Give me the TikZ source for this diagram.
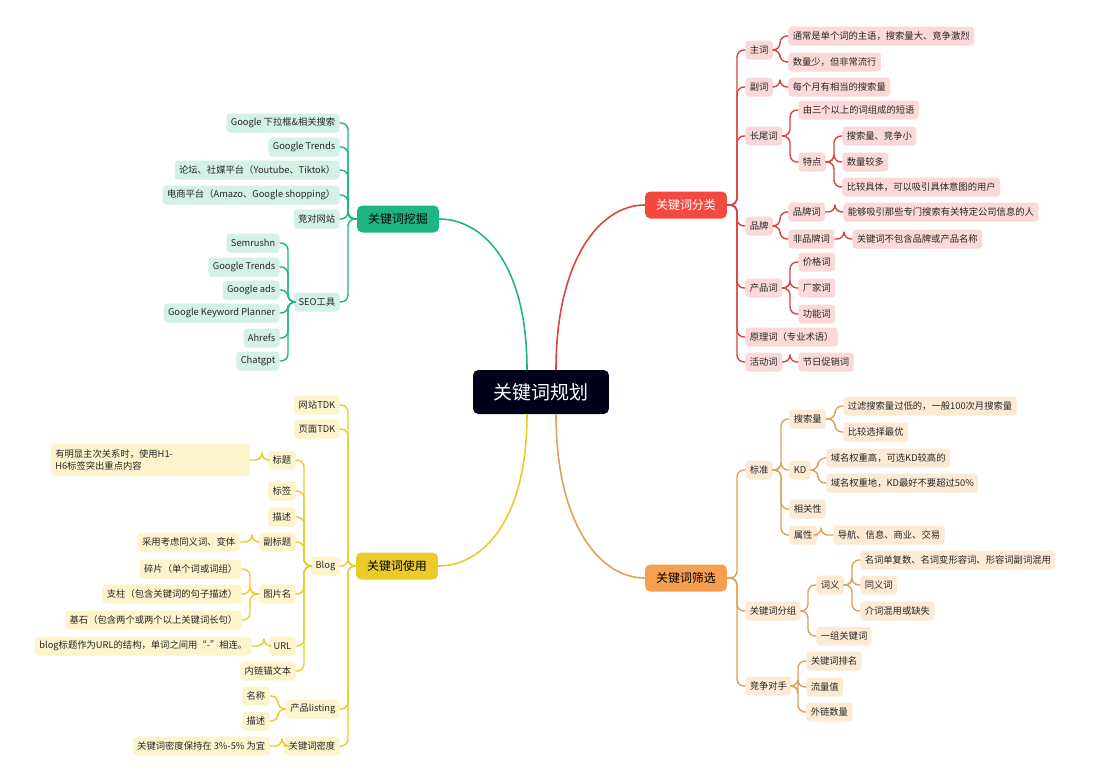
\documentclass[tikz,border=0pt]{standalone}
\usepackage{fontspec}
\setmainfont{Noto Sans CJK SC}
\usetikzlibrary{calc}
\definecolor{cred}{HTML}{D64541}
\definecolor{fred}{HTML}{FBD9D8}
\definecolor{bred}{HTML}{F24A40}
\definecolor{cgrn}{HTML}{1FB583}
\definecolor{fgrn}{HTML}{D3F1E4}
\definecolor{cyel}{HTML}{EACB2A}
\definecolor{fyel}{HTML}{FDF4CC}
\definecolor{cora}{HTML}{DFA05C}
\definecolor{fora}{HTML}{FCEAD5}
\definecolor{bora}{HTML}{F5A04E}
\tikzset{
  leaf/.style={rounded corners=2pt,inner xsep=2.5pt,inner ysep=0pt,minimum height=0.38cm,font=\fontsize{5.3}{6.5}\selectfont,text=black!85},
  lk/.style={line width=0.8pt,rounded corners=4pt},
  branch/.style={rounded corners=3pt,minimum width=1.64cm,minimum height=0.54cm,font=\fontsize{6.8}{8}\selectfont},
}
\newcommand\linkR[3][8]{\draw[lk] (#3.west) -- ++(-#1,0) |- (#2.east);}
\newcommand\linkL[3][8]{\draw[lk] (#3.east) -- ++(#1,0) |- (#2.west);}
\begin{document}
\begin{tikzpicture}[x=0.02cm,y=-0.02cm,line cap=round,line join=round]
\useasboundingbox[fill=white] (0,0) rectangle (1099,778);
% centre
\node[fill=black!90!blue,rounded corners=3pt,minimum width=2.72cm,minimum height=0.88cm,text=white,font=\fontsize{10.8}{12}\selectfont] (root) at (541,392) {关键词规划};
\node[branch,fill=bred,text=white] (fenlei) at (686,205) {关键词分类};
\node[branch,fill=cgrn,text=black] (wajue) at (398,219) {关键词挖掘};
\node[branch,fill=cyel,text=black] (shiyong) at (397,566) {关键词使用};
\node[branch,fill=bora,text=black] (shaixuan) at (686,578) {关键词筛选};
\draw[cred,line width=0.9pt] ($(root.north)+(15,0)$) .. controls +(0,-110) and (600,205) .. (fenlei.west);
\draw[cgrn,line width=0.9pt] ($(root.north)+(-14,0)$) .. controls +(0,-110) and (480,219) .. (wajue.east);
\draw[cyel,line width=0.9pt] ($(root.south)+(-14,0)$) .. controls +(0,110) and (480,566) .. (shiyong.east);
\draw[cora,line width=0.9pt] ($(root.south)+(15,0)$) .. controls +(0,110) and (600,578) .. (shaixuan.west);

% red tree
\begin{scope}[every node/.style={leaf,fill=fred,anchor=west},lk/.append style={cred}]
\node (zhu) at (745,50) {主词};
\node (fu) at (745,87) {副词};
\node (chang) at (745,136) {长尾词};
\node (pinpai) at (745,226) {品牌};
\node (chanp) at (745,288) {产品词};
\node (yuanli) at (745,337) {原理词（专业术语）};
\node (huod) at (745,362) {活动词};
\node (zhu1) at (788,36) {通常是单个词的主语，搜索量大、竞争激烈};
\node (zhu2) at (788,62) {数量少，但非常流行};
\node (fu1) at (788,87) {每个月有相当的搜索量};
\node (chang1) at (798,110) {由三个以上的词组成的短语};
\node (tedian) at (798,162) {特点};
\node (td1) at (842,136) {搜索量、竞争小};
\node (td2) at (842,162) {数量较多};
\node (td3) at (842,187) {比较具体，可以吸引具体意图的用户};
\node (ppc) at (788,212) {品牌词};
\node (fppc) at (788,239) {非品牌词};
\node (ppc1) at (843,212) {能够吸引那些专门搜索有关特定公司信息的人};
\node (fppc1) at (852,239) {关键词不包含品牌或产品名称};
\node (cp1) at (798,262) {价格词};
\node (cp2) at (798,288) {厂家词};
\node (cp3) at (798,314) {功能词};
\node (hd1) at (798,362) {节日促销词};
\foreach \c in {zhu,fu,chang,pinpai,chanp,yuanli,huod} {\linkR{fenlei}{\c}}
\foreach \c in {zhu1,zhu2} {\linkR{zhu}{\c}}
\linkR{fu}{fu1}
\foreach \c in {chang1,tedian} {\linkR{chang}{\c}}
\foreach \c in {td1,td2,td3} {\linkR{tedian}{\c}}
\foreach \c in {ppc,fppc} {\linkR{pinpai}{\c}}
\linkR{ppc}{ppc1}
\linkR{fppc}{fppc1}
\foreach \c in {cp1,cp2,cp3} {\linkR{chanp}{\c}}
\linkR{huod}{hd1}
\end{scope}

% orange tree
\begin{scope}[every node/.style={leaf,fill=fora,anchor=west},lk/.append style={cora}]
\node (biaoz) at (745,470) {标准};
\node (fenzu) at (745,611) {关键词分组};
\node (jingz) at (745,686) {竞争对手};
\node (ssl) at (789,419) {搜索量};
\node (kd) at (789,470) {KD};
\node (xgx) at (789,509) {相关性};
\node (sx) at (789,535) {属性};
\node (ssl1) at (843,406) {过滤搜索量过低的，一般100次月搜索量};
\node (ssl2) at (843,432) {比较选择最优};
\node (kd1) at (826,458) {域名权重高，可选KD较高的};
\node (kd2) at (826,483) {域名权重地，KD最好不要超过50\%};
\node (sx1) at (833,535) {导航、信息、商业、交易};
\node (ciyi) at (816,585) {词义};
\node (yizu) at (816,636) {一组关键词};
\node (cy1) at (860,560) {名词单复数、名词变形容词、形容词副词混用};
\node (cy2) at (860,585) {同义词};
\node (cy3) at (860,611) {介词混用或缺失};
\node (jz1) at (806,661) {关键词排名};
\node (jz2) at (806,687) {流量值};
\node (jz3) at (806,712) {外链数量};
\foreach \c in {biaoz,fenzu,jingz} {\linkR{shaixuan}{\c}}
\foreach \c in {ssl,kd,xgx,sx} {\linkR{biaoz}{\c}}
\foreach \c in {ssl1,ssl2} {\linkR{ssl}{\c}}
\foreach \c in {kd1,kd2} {\linkR{kd}{\c}}
\linkR[12]{sx}{sx1}
\foreach \c in {ciyi,yizu} {\linkR{fenzu}{\c}}
\foreach \c in {cy1,cy2,cy3} {\linkR{ciyi}{\c}}
\foreach \c in {jz1,jz2,jz3} {\linkR{jingz}{\c}}
\end{scope}

% green tree
\begin{scope}[every node/.style={leaf,fill=fgrn,anchor=east},lk/.append style={cgrn}]
\node (gg) at (340,123) {Google 下拉框\&相关搜索};
\node (gt) at (340,147) {Google Trends};
\node (lt) at (340,170) {论坛、社媒平台（Youtube、Tiktok）};
\node (ds) at (340,195) {电商平台（Amazo、Google shopping）};
\node (jd) at (340,219) {竞对网站};
\node (seo) at (340,302) {SEO工具};
\node (s1) at (280,243) {Semrushn};
\node (s2) at (280,267) {Google Trends};
\node (s3) at (280,290) {Google ads};
\node (s4) at (280,313) {Google Keyword Planner};
\node (s5) at (280,338) {Ahrefs};
\node (s6) at (280,361) {Chatgpt};
\foreach \c in {gg,gt,lt,ds,jd,seo} {\linkL{wajue}{\c}}
\foreach \c in {s1,s2,s3,s4,s5,s6} {\linkL{seo}{\c}}
\end{scope}

% yellow tree
\begin{scope}[every node/.style={leaf,fill=fyel,anchor=east},lk/.append style={cyel}]
\node (wz) at (340,405) {网站TDK};
\node (ym) at (340,429) {页面TDK};
\node (blog) at (340,566) {Blog};
\node (cpl) at (340,709) {产品listing};
\node (mid) at (340,746) {关键词密度};
\node (bt) at (296,460) {标题};
\node (bq) at (296,491) {标签};
\node (ms) at (296,517) {描述};
\node (fbt) at (296,542) {副标题};
\node (tp) at (296,594) {图片名};
\node (url) at (296,646) {URL};
\node (nl) at (296,671) {内链锚文本};
\node[text width=3.8cm,minimum height=0.64cm,inner ysep=2pt,align=left] (bt1) at (250,460) {有明显主次关系时，使用H1-H6标签突出重点内容};
\node (fbt1) at (240,542) {采用考虑同义词、变体};
\node (tp1) at (242,569) {碎片（单个词或词组）};
\node (tp2) at (242,594) {支柱（包含关键词的句子描述）};
\node (tp3) at (242,620) {基石（包含两个或两个以上关键词长句）};
\node (url1) at (252,646) {blog标题作为URL的结构，单词之间用“-”相连。};
\node (mc) at (270,696) {名称};
\node (ms2) at (270,721) {描述};
\node (mid1) at (270,746) {关键词密度保持在 3\%-5\% 为宜};
\foreach \c in {wz,ym,blog,cpl,mid} {\linkL{shiyong}{\c}}
\foreach \c in {bt,bq,ms,fbt,tp,url,nl} {\linkL{blog}{\c}}
\linkL[12]{bt}{bt1}
\linkL[12]{fbt}{fbt1}
\foreach \c in {tp1,tp2,tp3} {\linkL{tp}{\c}}
\linkL[12]{url}{url1}
\foreach \c in {mc,ms2} {\linkL{cpl}{\c}}
\linkL[12]{mid}{mid1}
\end{scope}
\end{tikzpicture}
\end{document}
